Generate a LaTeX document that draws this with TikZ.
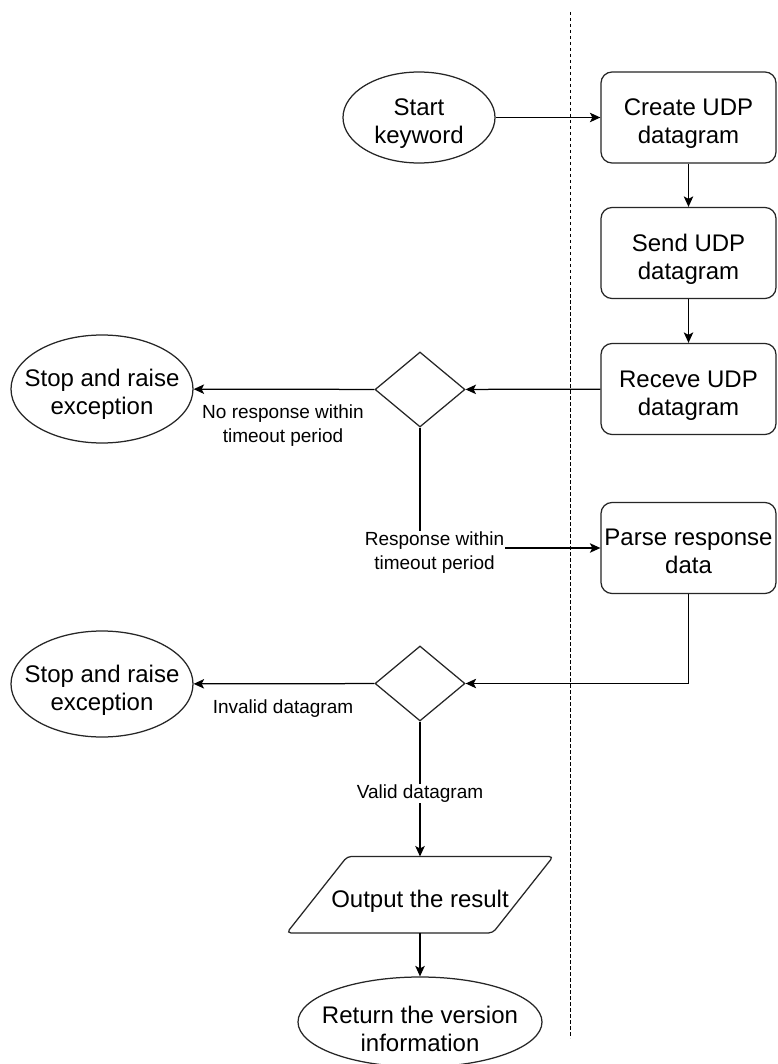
\documentclass[tikz,border=0pt]{standalone}
\usepackage{fontspec}
\setmainfont{Liberation Sans}
\usetikzlibrary{shapes.geometric,arrows.meta,calc}

\begin{document}
\begin{tikzpicture}[x=1pt,y=-1pt,
  base/.style={draw=black!85, line width=1.25pt, inner sep=0pt},
  stepbox/.style={base, rectangle, rounded corners=11pt,
                  minimum width=175pt, minimum height=91pt},
  term/.style={base, ellipse},
  shapetext/.style={align=center, inner sep=0pt, font=\fontsize{24}{28}\selectfont},
  decision/.style={base, diamond, minimum width=90pt, minimum height=75pt},
  ioframe/.style={draw=none, inner sep=0pt, minimum width=266pt, minimum height=76pt},
  flow/.style={line width=1.25pt, -{Stealth[length=10.5pt,width=9.5pt,inset=2.5pt]}},
  edgelabel/.style={font=\fontsize{19}{24}\selectfont, align=center, inner sep=1pt},
  lane/.style={line width=0.9pt, dash pattern=on 3.5pt off 2.5pt},
]
% canvas
\fill[white] (0,0) rectangle (777,1064);
\useasboundingbox (0,0) rectangle (777,1064);

% swimlane divider
\coordinate (laneTop) at (570.7,12);
\coordinate (laneBot) at (570.7,1038);
\draw[lane] (laneTop) -- (laneBot);

% terminals
\node[term, minimum width=152pt, minimum height=91pt] (start) at (419,117.5) {};
\node[shapetext] (startt) at (419,124) {Start\\keyword};

\node[term, minimum width=182pt, minimum height=108pt] (stop1) at (102,389) {};
\node[shapetext] (stop1t) at (102,394) {Stop and raise\\exception};

\node[term, minimum width=182pt, minimum height=106pt] (stop2) at (102,684) {};
\node[shapetext] (stop2t) at (102,690) {Stop and raise\\exception};

\node[term, minimum width=244pt, minimum height=90pt] (end) at (420,1022) {};
\node[shapetext] (endt) at (420,1028.5) {Return the version\\information};

% process steps
\node[stepbox] (create) at (688.5,117.5) {};
\node[shapetext] (createt) at (688.5,123.5) {Create UDP\\datagram};
\node[stepbox] (send)   at (688.5,253)   {};
\node[shapetext] (sendt) at (688.5,259.5) {Send UDP\\datagram};
\node[stepbox] (recv)   at (688.5,389)   {};
\node[shapetext] (recvt) at (688.5,396) {Receve UDP\\datagram};
\node[stepbox] (parse)  at (688.5,548)   {};
\node[shapetext] (parset) at (688.5,551) {Parse response\\data};

% decisions
\node[decision] (d1) at (420,389.5) {};
\node[decision] (d2) at (420,683.5) {};

% output (parallelogram)
\node[ioframe] (out) at (420,894.7) {};
\draw[draw=black!85, line width=1.25pt, rounded corners=4pt]
  (out.south west) -- ($(out.south west)+(206,0)$) -- (out.north east)
  -- ($(out.north east)+(-206,0)$) -- cycle;
\node[shapetext] (outt) at (420,901.5) {Output the result};

% connectors
\draw[flow] (start) -- (create);
\draw[flow] (create) -- (send);
\draw[flow] (send) -- (recv);
\draw[flow] (recv) -- (d1);
\draw[flow] (d1) -- (stop1);
\draw[flow] (d1.south) |- (parse.west);
\draw[flow] (parse.south) |- (d2.east);
\draw[flow] (d2) -- (stop2);
\draw[flow] (d2.south) -- (out.north);
\draw[flow] (out.south) -- (end.north);

% connector labels
\node[edgelabel] (lNo) at (283,426) {No response within\\timeout period};
\node[edgelabel, fill=white] (lYes) at (434.5,552.5) {Response within\\timeout period};
\node[edgelabel] (lInv) at (283,708.5) {Invalid datagram};
\node[edgelabel, fill=white] (lVal) at (420,793.5) {Valid datagram};
\end{tikzpicture}
\end{document}
